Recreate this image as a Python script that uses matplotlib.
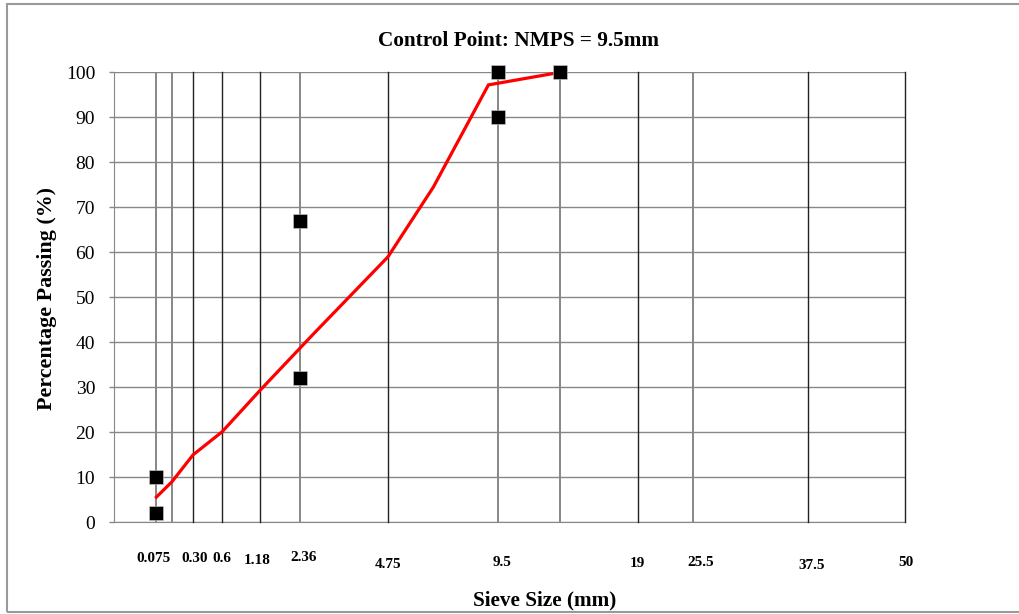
#!/usr/bin/env python3
"""Gradation chart (0.45 power x-axis) with control points for NMPS = 9.5 mm."""
import matplotlib

matplotlib.use("Agg")
import matplotlib.pyplot as plt
import matplotlib.transforms as mtransforms
from matplotlib.patches import Rectangle

plt.rcParams["font.family"] = ["Liberation Serif", "DejaVu Serif"]

# vertical sieve lines, x in (size mm)^0.45 units
SIEVE_X = [0.312, 0.426, 0.582, 0.795, 1.077, 1.371, 2.016, 2.826, 3.284,
           3.854, 4.257, 5.109, 5.818]
SIEVE_LABELS = ["0.075", "", "0.30", "0.6", "1.18", "2.36", "4.75", "9.5", "",
                "19", "25.5", "37.5", "50"]
SIEVE_DARK = [False, False, True, True, True, False, True, False, False,
              True, False, True, True]

# gradation curve
CURVE_X = [0.312, 0.426, 0.582, 0.795, 1.077, 1.472, 2.016, 2.35, 2.755, 3.284]
CURVE_Y = [5.6, 9.0, 15.0, 20.1, 29.4, 42.0, 59.0, 74.5, 97.2, 100.0]

# control points
CTRL_X = [0.312, 0.312, 1.371, 1.371, 2.826, 2.826, 3.284]
CTRL_Y = [10, 2, 67, 32, 100, 90, 100]

Y_TICKS = list(range(0, 101, 10))

# label nudges in pixels (dx, dy) to follow the reference layout
LABEL_NUDGE = {"0.075": (-3, 2), "0.30": (2, 2), "0.6": (0, 2), "1.18": (-3, 0),
               "2.36": (3, 3), "4.75": (0, -4), "9.5": (4, -2), "19": (0, -3),
               "25.5": (8, -2), "37.5": (3, -5), "50": (1, -2)}

GRAY = "#878787"

W, H = 1020, 614
fig = plt.figure(figsize=(W / 100, H / 100), dpi=100)
ax = fig.add_axes([114 / W, 1 - 522.3 / H, (904.7 - 114) / W, 450 / H])

ax.set_xlim(0, SIEVE_X[-1])
ax.set_ylim(0, 100)

for y in Y_TICKS:
    ax.axhline(y, color=GRAY, lw=1.0, zorder=1)
for x, dark in zip(SIEVE_X, SIEVE_DARK):
    if dark:
        ax.axvline(x, color="#222222", lw=1.0, zorder=1.5, clip_on=False)
    else:
        ax.axvline(x, color=GRAY, lw=1.4, zorder=1.2)

ax.plot(CURVE_X, CURVE_Y, color="#ff0000", lw=2.3, zorder=3,
        solid_joinstyle="miter")
ax.plot(CTRL_X, CTRL_Y, ls="none", marker="s", ms=9.8, mfc="black",
        mec="#d0d0d0", mew=0.4, zorder=4, clip_on=False)

for side in ("top", "right"):
    ax.spines[side].set_visible(False)
ax.spines["left"].set_color(GRAY)
ax.spines["bottom"].set_color(GRAY)
ax.spines["left"].set_zorder(1)
ax.spines["bottom"].set_zorder(1)

ax.set_yticks(Y_TICKS)
ax.set_xticks([])
ax.tick_params(axis="y", direction="out", length=3.6, width=1.0, color=GRAY,
               labelsize=14, pad=10)

trans = mtransforms.blended_transform_factory(ax.transData, ax.transAxes)
for x, lab in zip(SIEVE_X, SIEVE_LABELS):
    if not lab:
        continue
    dx, dy = LABEL_NUDGE.get(lab, (0, 0))
    ax.annotate(lab, (x, -0.084), xycoords=trans,
                xytext=(dx * 0.72, dy * 0.72), textcoords="offset points",
                ha="center", va="center", fontsize=11, fontweight="bold",
                annotation_clip=False)

fig.text(519 / W, 1 - 41 / H, "Control Point: NMPS = 9.5mm", ha="center",
         va="center", fontsize=15.3, fontweight="bold")
fig.text(545 / W, 1 - 600 / H, "Sieve Size (mm)", ha="center", va="center",
         fontsize=15.3, fontweight="bold")
fig.text(47 / W, 1 - 298 / H, "Percentage Passing (%)", ha="center",
         va="center", rotation=90, fontsize=15.8, fontweight="bold")

# chart-area border
fig.patches.append(Rectangle((7 / W, 2 / H), 1.05, (H - 6) / H,
                             transform=fig.transFigure, fill=False,
                             ec="#9a9a9a", lw=1.5, clip_on=False))

fig.savefig("out.png", dpi=100)
